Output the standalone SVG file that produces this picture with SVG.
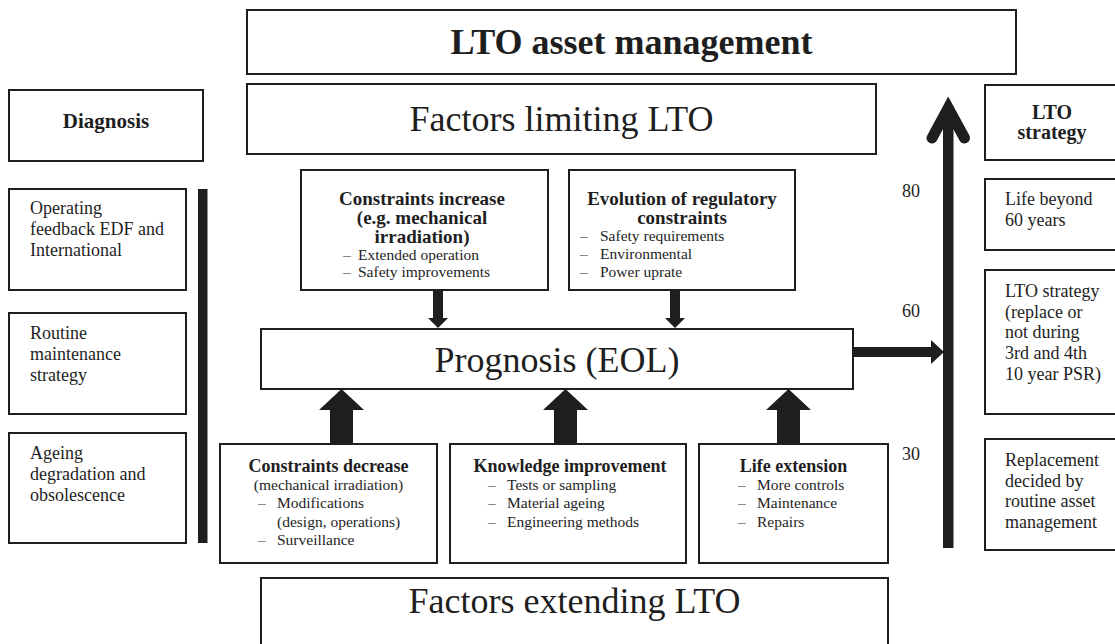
<svg xmlns="http://www.w3.org/2000/svg" width="1115" height="644" viewBox="0 0 1115 644">
  <style>
    .box { fill: #ffffff; stroke: #1e1e1e; stroke-width: 2; }
    .t { font-family: "Liberation Serif", "Times New Roman", serif; fill: #1e1e1e; }
    .b { font-weight: bold; }
    .c { text-anchor: middle; }
    .big { font-size: 36px; }
    .hd { font-size: 18px; }
    .hd19 { font-size: 19px; }
    .side { font-size: 18px; }
    .body { font-size: 15.5px; }
    .solid { fill: #1e1e1e; stroke: none; }
  </style>

  <rect x="0" y="0" width="1115" height="644" fill="#ffffff"/>

  <!-- header boxes -->
  <g id="asset-management">
    <rect class="box" x="247" y="10" width="769" height="64"/>
    <text class="t b c big" x="631.5" y="54">LTO asset management</text>
  </g>

  <g id="factors-limiting">
    <rect class="box" x="247" y="84" width="629" height="70"/>
    <text class="t c big" x="561.5" y="131">Factors limiting LTO</text>
  </g>

  <g id="diagnosis">
    <rect class="box" x="9" y="90" width="194" height="71"/>
    <text class="t b c" style="font-size:21px" x="106" y="128">Diagnosis</text>
  </g>

  <g id="lto-strategy-header">
    <rect class="box" x="985" y="85" width="140" height="75"/>
    <text class="t b c" style="font-size:20px" x="1052" y="119">LTO</text>
    <text class="t b c" style="font-size:20px" x="1052" y="139">strategy</text>
  </g>

  <!-- diagnosis column -->
  <g id="operating-feedback">
    <rect class="box" x="9" y="189" width="177" height="101"/>
    <text class="t side" x="30" y="214">Operating</text>
    <text class="t side" x="30" y="235">feedback EDF and</text>
    <text class="t side" x="30" y="256">International</text>
  </g>

  <g id="routine-maintenance">
    <rect class="box" x="9" y="313" width="177" height="101"/>
    <text class="t side" x="30" y="339">Routine</text>
    <text class="t side" x="30" y="360">maintenance</text>
    <text class="t side" x="30" y="381">strategy</text>
  </g>

  <g id="ageing">
    <rect class="box" x="9" y="433" width="177" height="110"/>
    <text class="t side" x="30" y="459">Ageing</text>
    <text class="t side" x="30" y="480">degradation and</text>
    <text class="t side" x="30" y="501">obsolescence</text>
  </g>

  <g id="diagnosis-bar">
    <rect class="solid" x="198" y="189" width="9.5" height="354"/>
  </g>

  <!-- limiting factors -->
  <g id="constraints-increase">
    <rect class="box" x="301" y="170" width="247" height="120"/>
    <text class="t b c hd19" x="422" y="205">Constraints increase</text>
    <text class="t b c hd19" x="422" y="224">(e.g. mechanical</text>
    <text class="t b c hd19" x="422" y="243">irradiation)</text>
    <text class="t body" x="343" y="260">–</text>
    <text class="t body" x="358" y="260">Extended operation</text>
    <text class="t body" x="343" y="277">–</text>
    <text class="t body" x="358" y="277">Safety improvements</text>
  </g>

  <g id="regulatory-constraints">
    <rect class="box" x="569" y="170" width="226" height="120"/>
    <text class="t b c hd19" x="682" y="205">Evolution of regulatory</text>
    <text class="t b c hd19" x="682" y="224">constraints</text>
    <text class="t body" x="580" y="241">–</text>
    <text class="t body" x="600" y="241">Safety requirements</text>
    <text class="t body" x="580" y="259">–</text>
    <text class="t body" x="600" y="259">Environmental</text>
    <text class="t body" x="580" y="277">–</text>
    <text class="t body" x="600" y="277">Power uprate</text>
  </g>

  <g id="prognosis">
    <rect class="box" x="261" y="329" width="592" height="60"/>
    <text class="t c big" x="557" y="372">Prognosis (EOL)</text>
  </g>

  <!-- extending factors -->
  <g id="constraints-decrease">
    <rect class="box" x="220" y="444" width="217" height="119"/>
    <text class="t b c hd" x="328.5" y="472">Constraints decrease</text>
    <text class="t c body" x="328.5" y="490">(mechanical irradiation)</text>
    <text class="t body" x="258" y="508">–</text>
    <text class="t body" x="277" y="508">Modifications</text>
    <text class="t body" x="277" y="527">(design, operations)</text>
    <text class="t body" x="258" y="545">–</text>
    <text class="t body" x="277" y="545">Surveillance</text>
  </g>

  <g id="knowledge-improvement">
    <rect class="box" x="450" y="444" width="236" height="119"/>
    <text class="t b c hd" x="570" y="472">Knowledge improvement</text>
    <text class="t body" x="488" y="490">–</text>
    <text class="t body" x="507" y="490">Tests or sampling</text>
    <text class="t body" x="488" y="508">–</text>
    <text class="t body" x="507" y="508">Material ageing</text>
    <text class="t body" x="488" y="527">–</text>
    <text class="t body" x="507" y="527">Engineering methods</text>
  </g>

  <g id="life-extension">
    <rect class="box" x="699" y="444" width="189" height="119"/>
    <text class="t b c hd" x="793.5" y="472">Life extension</text>
    <text class="t body" x="738" y="490">–</text>
    <text class="t body" x="757" y="490">More controls</text>
    <text class="t body" x="738" y="508">–</text>
    <text class="t body" x="757" y="508">Maintenance</text>
    <text class="t body" x="738" y="527">–</text>
    <text class="t body" x="757" y="527">Repairs</text>
  </g>

  <g id="factors-extending">
    <rect class="box" x="261" y="578" width="627" height="80"/>
    <text class="t c big" x="574.5" y="613">Factors extending LTO</text>
  </g>

  <!-- age scale -->
  <g id="age-scale">
    <text class="t side" x="902" y="197">80</text>
    <text class="t side" x="902" y="317">60</text>
    <text class="t side" x="902" y="460">30</text>
  </g>

  <!-- strategy column -->
  <g id="life-beyond-60">
    <rect class="box" x="985" y="179" width="140" height="71"/>
    <text class="t side" x="1005" y="205">Life beyond</text>
    <text class="t side" x="1005" y="226">60 years</text>
  </g>

  <g id="lto-strategy-detail">
    <rect class="box" x="985" y="270" width="140" height="144"/>
    <text class="t side" x="1005" y="297">LTO strategy</text>
    <text class="t side" x="1005" y="318">(replace or</text>
    <text class="t side" x="1005" y="338">not during</text>
    <text class="t side" x="1005" y="359">3rd and 4th</text>
    <text class="t side" x="1005" y="380">10 year PSR)</text>
  </g>

  <g id="replacement">
    <rect class="box" x="985" y="439" width="140" height="111"/>
    <text class="t side" x="1005" y="466">Replacement</text>
    <text class="t side" x="1005" y="487">decided by</text>
    <text class="t side" x="1005" y="507">routine asset</text>
    <text class="t side" x="1005" y="528">management</text>
  </g>

  <!-- connectors -->
  <g id="connectors">
    <!-- limiting factors down into prognosis -->
    <polygon class="solid" points="433,290 443,290 443,318 448,318 438,328 428,318 433,318"/>
    <polygon class="solid" points="670,290 680,290 680,318 685,318 675,328 665,318 670,318"/>
    <!-- extending factors up into prognosis -->
    <polygon class="solid" points="330,444 353,444 353,410 364,410 341.5,389 319,410 330,410"/>
    <polygon class="solid" points="554,444 577,444 577,410 588,410 565.5,389 543,410 554,410"/>
    <polygon class="solid" points="777,444 800,444 800,410 811,410 788.5,389 766,410 777,410"/>
    <!-- prognosis to the time axis -->
    <polygon class="solid" points="853,347 931,347 931,340 944,352 931,364 931,357 853,357"/>
    <!-- time axis -->
    <rect class="solid" x="943" y="106" width="10.5" height="442"/>
    <path d="M932,138 L948.2,108 L964.5,138" fill="none" stroke="#1e1e1e" stroke-width="11" stroke-linecap="round" stroke-linejoin="miter"/>
  </g>
</svg>
